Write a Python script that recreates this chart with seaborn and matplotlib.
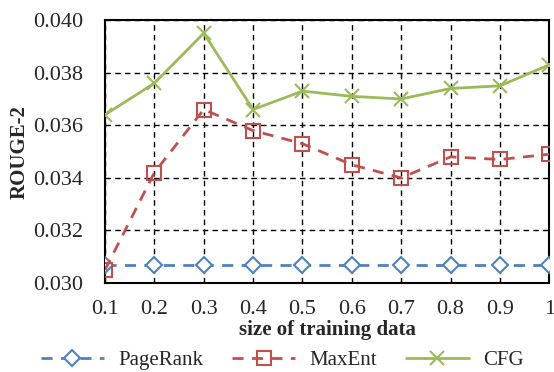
import numpy as np
import pandas as pd
import matplotlib
matplotlib.use('Agg')
import matplotlib.pyplot as plt
import seaborn as sns

# values
sizes = [0.1, 0.2, 0.3, 0.4, 0.5, 0.6, 0.7, 0.8, 0.9, 1.0]
pagerank = [0.0307, 0.0307, 0.0307, 0.0307, 0.0307, 0.0307, 0.0307, 0.0307, 0.0307, 0.0307]
maxent = [0.0305, 0.0342, 0.0366, 0.0358, 0.0353, 0.0345, 0.0340, 0.0348, 0.0347, 0.0349]
cfg = [0.0364, 0.0376, 0.0395, 0.0366, 0.0373, 0.0371, 0.0370, 0.0374, 0.0375, 0.0383]
x_labels = ['0.1', '0.2', '0.3', '0.4', '0.5', '0.6', '0.7', '0.8', '0.9', '1']

sns.set_style('white')
plt.rcParams['font.family'] = ['Liberation Serif', 'DejaVu Serif']

fig = plt.figure(figsize=(5.54, 3.72), dpi=100)
ax = fig.add_axes([0.1895, 0.239, 0.802, 0.707])

blue = '#4F81BD'
red = '#C0504D'
green = '#9BBB59'

sns.lineplot(x=sizes, y=pagerank, ax=ax, color=blue, linestyle=(0, (4, 3)), linewidth=2,
             marker='D', markersize=8, markerfacecolor='white', markeredgecolor=blue,
             markeredgewidth=1.5, label='PageRank', zorder=3)
sns.lineplot(x=sizes, y=maxent, ax=ax, color=red, linestyle=(0, (4, 3)), linewidth=2,
             marker='s', markersize=10, markerfacecolor='none', markeredgecolor=red,
             markeredgewidth=1.5, label='MaxEnt', zorder=3)
sns.lineplot(x=sizes, y=cfg, ax=ax, color=green, linestyle='-', linewidth=2,
             marker='x', markersize=10, markeredgecolor=green,
             markeredgewidth=1.5, label='CFG', zorder=3)

ax.set_xlim(0.1, 1.0)
ax.set_ylim(0.030, 0.040)
ax.set_xticks(sizes)
ax.set_xticklabels(x_labels)
ax.set_yticks([0.030, 0.032, 0.034, 0.036, 0.038, 0.040])
ax.set_yticklabels(['0.030', '0.032', '0.034', '0.036', '0.038', '0.040'])
ax.tick_params(axis='both', labelsize=16, length=0)
ax.tick_params(axis='y', pad=16)
ax.tick_params(axis='x', pad=12)
ax.grid(True, color='black', linestyle=(0, (4, 3)), linewidth=1)
for s in ax.spines.values():
    s.set_color('black')
    s.set_linewidth(1.5)

ax.set_xlabel('size of training data', fontsize=15, fontweight='bold', labelpad=1)
ax.set_ylabel('ROUGE-2', fontsize=15, fontweight='bold', labelpad=2)

fig.legend(*ax.get_legend_handles_labels(), loc='lower center', bbox_to_anchor=(0.51, -0.045),
           ncol=3, frameon=False, fontsize=15, handlelength=3, columnspacing=1.4,
           handletextpad=0.7)
ax.get_legend().remove()

fig.savefig('out.png', dpi=100)
